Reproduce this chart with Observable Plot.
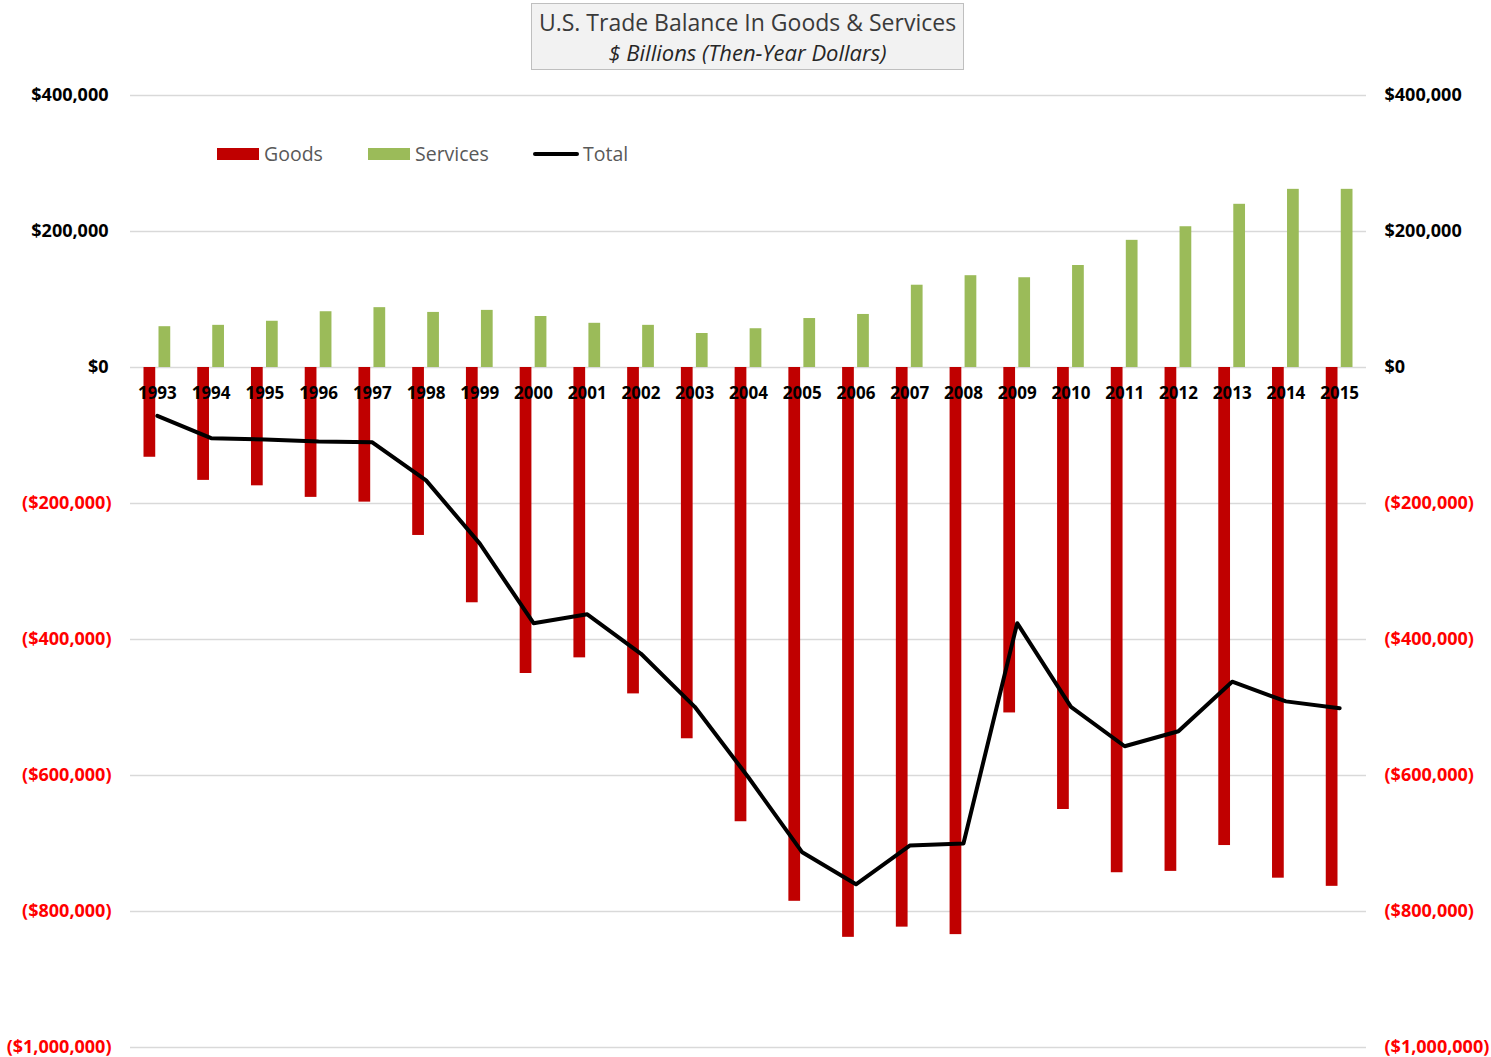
<!DOCTYPE html>
<html><head><meta charset="utf-8">
<script src="https://cdn.jsdelivr.net/npm/d3@7"></script>
<script src="https://cdn.jsdelivr.net/npm/@observablehq/plot@0.6"></script>
<style>
body{margin:0;background:#fff;font-family:"Open Sans",sans-serif;}
#wrap{position:relative;width:1491px;height:1057px;overflow:hidden;}
#title{position:absolute;left:531px;top:3px;width:433px;height:67px;background:#f2f2f2;border:1.5px solid #bfbfbf;text-align:center;color:#3a3a3a;box-sizing:border-box;}
#title .t1{font-size:23px;line-height:30px;margin-top:3px;}
#title .t2{font-size:22px;line-height:30px;font-style:italic;color:#262626;}
#legend{position:absolute;top:140px;left:217px;font-size:19.5px;color:#595959;display:flex;align-items:center;}
.item{display:flex;align-items:center;}
.sw{width:42px;height:12px;margin-right:5px;}
.ln{width:46px;height:4px;background:#000;border-radius:2px;margin-right:4px;}
</style></head>
<body><div id="wrap">
<div id="chart"></div>
<div id="title"><div class="t1">U.S. Trade Balance In Goods &amp; Services</div><div class="t2">$ Billions (Then-Year Dollars)</div></div>
<div id="legend">
 <div class="item" style="width:151px"><div class="sw" style="background:#c00000"></div>Goods</div>
 <div class="item" style="width:165px"><div class="sw" style="background:#9bbb59"></div>Services</div>
 <div class="item"><div class="ln"></div>Total</div>
</div>
</div>
<script>
const years = ["1993","1994","1995","1996","1997","1998","1999","2000","2001","2002","2003","2004","2005","2006","2007","2008","2009","2010","2011","2012","2013","2014","2015"];
const goods = [-132000,-166000,-174000,-191000,-198000,-247000,-346000,-450000,-427000,-480000,-546000,-668000,-785000,-838000,-823000,-834000,-508000,-650000,-743000,-741000,-703000,-751000,-763000];
const services = [60000,62000,68000,82000,88000,81000,84000,75000,65000,62000,50000,57000,72000,78000,121000,135000,132000,150000,187000,207000,240000,262000,262000];
const total = [-71000,-104000,-106000,-109000,-110000,-166000,-259000,-376000,-363000,-421000,-499000,-603000,-713000,-760000,-703000,-700000,-376000,-499000,-557000,-535000,-462000,-491000,-501000];
const yTicks = [-1000000,-800000,-600000,-400000,-200000,0,200000,400000];

const rows = years.map((y,i)=>({year:y, goods:goods[i], services:services[i], total:total[i]}));
const nf = d3.format(",");
const fmt = d => d < 0 ? `($${nf(-d)})` : `$${nf(d)}`;
const posTicks = yTicks.filter(d=>d>=0), negTicks = yTicks.filter(d=>d<0);
const axisStyle = {tickSize:0, label:null, tickFormat:fmt, fontWeight:"bold", fontSize:18};

const chart = Plot.plot({
  width:1491, height:1057,
  marginTop:95, marginBottom:10, marginLeft:130, marginRight:125,
  style:{fontFamily:"'Open Sans', sans-serif", background:"transparent"},
  x:{type:"band", domain:years, padding:0, round:false, axis:null},
  y:{domain:[-1000000,400000], axis:null},
  marks:[
    Plot.ruleY(yTicks, {stroke:"#d9d9d9", strokeWidth:1.5}),
    Plot.barY(rows, {x:"year", y:"goods", fill:"#c00000", insetLeft:13.5, insetRight:28.5}),
    Plot.barY(rows, {x:"year", y:"services", fill:"#9bbb59", insetLeft:28.5, insetRight:13.5}),
    Plot.line(rows, {x:"year", y:"total", stroke:"#000", strokeWidth:4, strokeLinejoin:"round", strokeLinecap:"round"}),
    Plot.text(rows, {x:"year", y:d=>0, dy:26, text:"year", fontWeight:"bold", fontSize:17, fill:"#000"}),
    Plot.axisY(posTicks, {...axisStyle, anchor:"left", tickPadding:22, color:"#000"}),
    Plot.axisY(negTicks, {...axisStyle, anchor:"left", tickPadding:19, color:"#ff0000"}),
    Plot.axisY(posTicks, {...axisStyle, anchor:"right", tickPadding:18, color:"#000"}),
    Plot.axisY(negTicks, {...axisStyle, anchor:"right", tickPadding:18, color:"#ff0000"})
  ]
});
document.getElementById("chart").appendChild(chart);
</script>
</body></html>
